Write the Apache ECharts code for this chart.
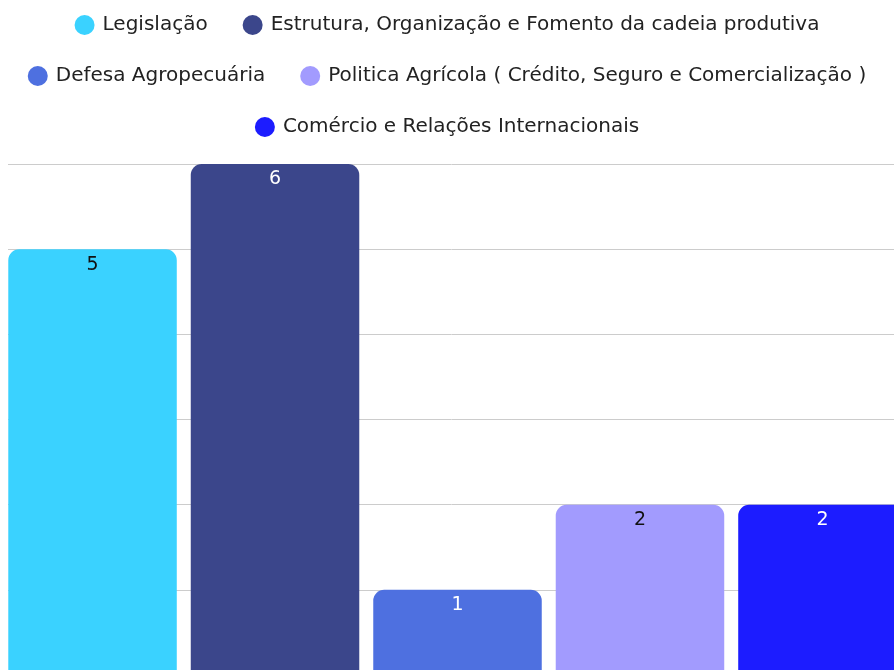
<!DOCTYPE html>
<html>
<head>
<meta charset="utf-8">
<title>chart</title>
<script src="https://cdn.jsdelivr.net/npm/echarts@6/dist/echarts.min.js"></script>
<style>
  html, body { margin: 0; padding: 0; background: #fff; }
  #main { width: 894px; height: 670px; }
</style>
</head>
<body>
<div id="main"></div>
<script>
// dados do grafico
var seriesNames = [
    'Legislação',
    'Estrutura, Organização e Fomento da cadeia produtiva',
    'Defesa Agropecuária',
    'Politica Agrícola ( Crédito, Seguro e Comercialização )',
    'Comércio e Relações Internacionais'
];
var seriesValues = [5, 6, 1, 2, 2];
var seriesColors = ['#3AD2FF', '#3B468B', '#4E70E0', '#A29BFE', '#1C1CFF'];
var labelColors = ['#111', '#fff', '#fff', '#111', '#fff'];
var categories = [''];
// linhas da legenda
var legendRows = [[0, 1], [2, 3], [4]];
var fontName = 'DejaVu Sans';

var myChart = echarts.init(document.getElementById('main'));

var series = [];
for (var i = 0; i < seriesNames.length; i++) {
    series.push({
        name: seriesNames[i],
        type: 'bar',
        data: [seriesValues[i]],
        barWidth: 168.5,
        barGap: '8.3%',
        itemStyle: { color: seriesColors[i], borderRadius: [11, 11, 0, 0] },
        label: {
            show: true,
            position: 'insideTop',
            distance: 6,
            color: labelColors[i],
            fontSize: 19,
            fontFamily: fontName
        }
    });
}

var legends = [];
for (var r = 0; r < legendRows.length; r++) {
    legends.push({
        top: 15 + r * 51,
        left: 'center',
        icon: 'circle',
        itemWidth: 26,
        itemHeight: 20,
        itemGap: 35,
        padding: 0,
        textStyle: { fontSize: 20, color: '#222', fontFamily: fontName },
        data: legendRows[r].map(function (k) { return seriesNames[k]; })
    });
}

var option = {
    animation: false,
    legend: legends,
    grid: { left: 8, top: 164, width: 899, height: 511, outerBoundsMode: 'none' },
    xAxis: {
        type: 'category',
        data: categories,
        axisLine: { show: false },
        axisTick: { show: false },
        axisLabel: { show: false }
    },
    yAxis: {
        type: 'value',
        min: 0,
        max: 6,
        interval: 1,
        axisLabel: { show: false },
        axisLine: { show: false },
        axisTick: { show: false },
        splitLine: { lineStyle: { color: '#cccccc' } }
    },
    series: series
};

myChart.setOption(option);
</script>
</body>
</html>
